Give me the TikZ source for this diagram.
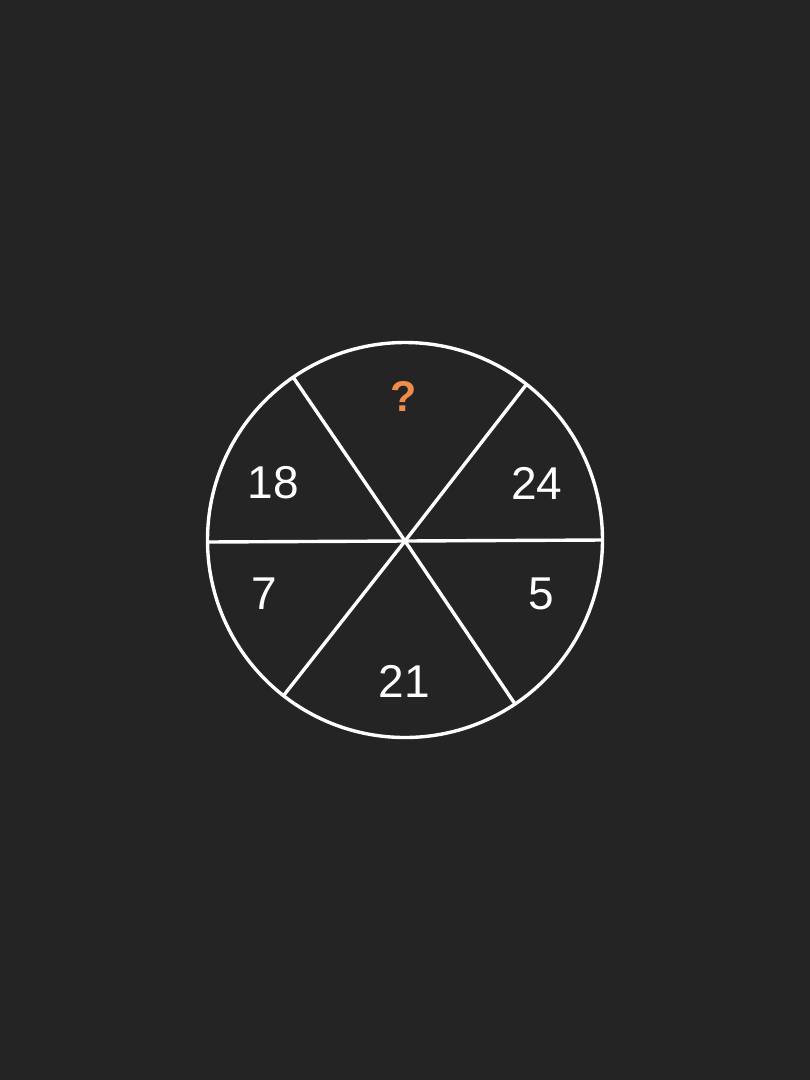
\documentclass[tikz,border=0pt]{standalone}
\usepackage{fontspec}
\setmainfont{Liberation Sans}
\definecolor{bg}{HTML}{242424}
\definecolor{qorange}{HTML}{F08C4A}
\begin{document}
\begin{tikzpicture}[x=1pt,y=-1pt,
  line/.style={draw=white,line width=3.4pt},
  num/.style={text=white,inner sep=0pt,font=\fontsize{46}{46}\selectfont},
  qmark/.style={text=qorange,inner sep=0pt,font=\fontsize{43}{43}\selectfont\bfseries}]
\fill[bg] (0,0) rectangle (810,1080);
\useasboundingbox (0,0) rectangle (810,1080);
\coordinate (c) at (405,541);
\coordinate (tl) at (293,377);
\coordinate (tr) at (526,385);
\coordinate (l) at (207,542);
\coordinate (r) at (603,540);
\coordinate (bl) at (284,695);
\coordinate (br) at (515,704);
\draw[line] (c) -- (tl);
\draw[line] (c) -- (tr);
\draw[line] (c) -- (l);
\draw[line] (c) -- (r);
\draw[line] (c) -- (bl);
\draw[line] (c) -- (br);
\draw[line] (405,540) circle (197.5);
\node[qmark] (q) at (403.5,396.5) {?};
\node[num] (n18) at (273.5,483) {18};
\node[num] (n24) at (537,483) {24};
\node[num] (n7) at (264,593.5) {7};
\node[num] (n5) at (541.5,593.5) {5};
\node[num] (n21) at (404.5,681) {21};
\end{tikzpicture}
\end{document}
